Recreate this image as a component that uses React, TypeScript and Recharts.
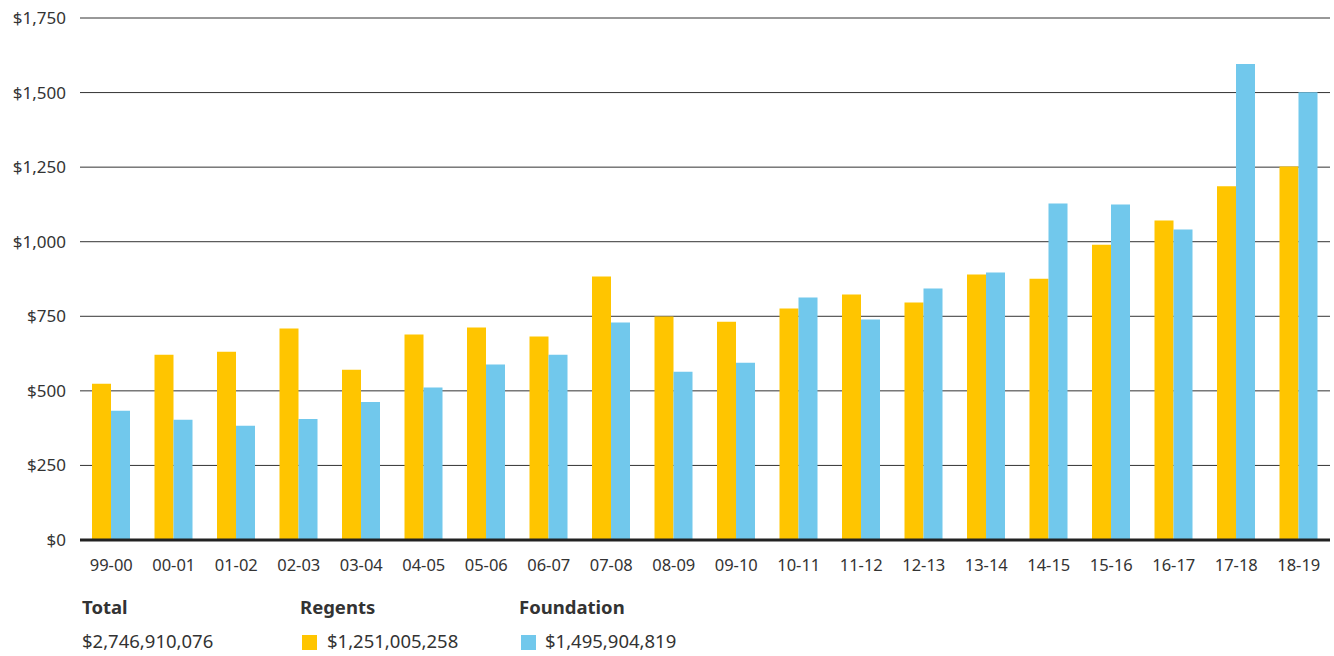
import { BarChart, Bar, XAxis, YAxis, CartesianGrid } from 'recharts';

const years = [
  '99-00', '00-01', '01-02', '02-03', '03-04', '04-05', '05-06', '06-07', '07-08', '08-09',
  '09-10', '10-11', '11-12', '12-13', '13-14', '14-15', '15-16', '16-17', '17-18', '18-19',
];
const regents = [
  524, 621, 631, 709, 571, 689, 712, 682, 883, 749,
  732, 776, 823, 796, 890, 876, 990, 1071, 1186, 1252,
];
const foundation = [
  433, 403, 383, 406, 463, 511, 588, 621, 729, 564,
  594, 813, 739, 843, 897, 1128, 1125, 1041, 1596, 1501,
];
const yTicks = [0, 250, 500, 750, 1000, 1250, 1500, 1750];

const totals = {
  total: '$2,746,910,076',
  regents: '$1,251,005,258',
  foundation: '$1,495,904,819',
};

const YELLOW = '#FFC500';
const BLUE = '#71C8EC';
const FONT = '"Noto Sans", "Open Sans", sans-serif';

const data = years.map((year, i) => ({
  year,
  regents: regents[i],
  foundation: foundation[i],
}));

const money = (v: number) => `$${v.toLocaleString('en-US')}`;

export default function App() {
  return (
    <div style={{ position: 'relative', width: 1334, height: 656, fontFamily: FONT, color: '#333' }}>
      <style>{'body{margin:0}'}</style>
      <BarChart
        width={1334}
        height={590}
        data={data}
        margin={{ top: 18, right: 4, left: 0, bottom: 10 }}
        barGap={0}
        barSize={19}
      >
        <CartesianGrid vertical={false} stroke="#333" strokeWidth={1} />
        <XAxis
          dataKey="year"
          tickLine={false}
          axisLine={{ stroke: '#222', strokeWidth: 3 }}
          height={40}
          tickMargin={13}
          interval={0}
          tick={{ fontSize: 16.5, fill: '#333', fontFamily: FONT }}
        />
        <YAxis
          domain={[0, 1750]}
          ticks={yTicks}
          tickFormatter={money}
          width={80}
          axisLine={false}
          tickLine={false}
          tickMargin={8}
          tick={{ fontSize: 17, fill: '#333', fontFamily: FONT }}
        />
        <Bar dataKey="regents" fill={YELLOW} isAnimationActive={false} />
        <Bar dataKey="foundation" fill={BLUE} isAnimationActive={false} />
      </BarChart>

      <div style={{ position: 'absolute', left: 82, top: 594, fontSize: 18.5, fontWeight: 700 }}>Total</div>
      <div style={{ position: 'absolute', left: 300, top: 594, fontSize: 18.5, fontWeight: 700 }}>Regents</div>
      <div style={{ position: 'absolute', left: 519, top: 594, fontSize: 18.5, fontWeight: 700 }}>Foundation</div>

      <div style={{ position: 'absolute', left: 82, top: 628, fontSize: 18.5 }}>{totals.total}</div>
      <div style={{ position: 'absolute', left: 302, top: 635, width: 15, height: 15, background: YELLOW }} />
      <div style={{ position: 'absolute', left: 327, top: 628, fontSize: 18.5 }}>{totals.regents}</div>
      <div style={{ position: 'absolute', left: 521, top: 635, width: 15, height: 15, background: BLUE }} />
      <div style={{ position: 'absolute', left: 545, top: 628, fontSize: 18.5 }}>{totals.foundation}</div>
    </div>
  );
}
